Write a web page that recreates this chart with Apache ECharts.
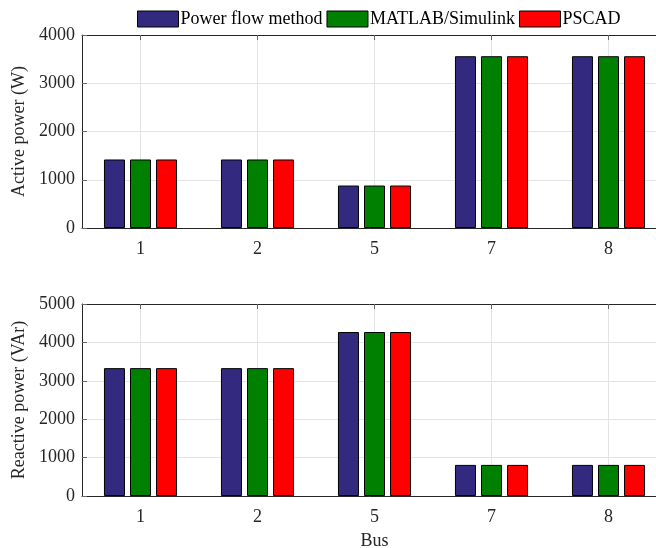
<!DOCTYPE html>
<html>
<head>
<meta charset="utf-8">
<script src="https://cdn.jsdelivr.net/npm/echarts@6/dist/echarts.min.js"></script>
<style>
  html, body { margin: 0; padding: 0; background: #fff; }
  #main { width: 656px; height: 548px; }
</style>
</head>
<body>
<div id="main"></div>
<script>
// 母线编号
var buses = ['1', '2', '5', '7', '8'];
var seriesNames = ['Power flow method', 'MATLAB/Simulink', 'PSCAD'];
var seriesColors = ['#332a80', '#008000', '#ff0000'];

// 有功功率 (W)
var activePowerflow = [1420, 1420, 880, 3560, 3560];
var activeMatlab = [1420, 1420, 880, 3560, 3560];
var activePscad = [1420, 1420, 880, 3560, 3560];

// 无功功率 (VAr)
var reactivePowerflow = [3330, 3330, 4270, 810, 810];
var reactiveMatlab = [3330, 3330, 4270, 810, 810];
var reactivePscad = [3330, 3330, 4270, 810, 810];

var activeTicks = [0, 1000, 2000, 3000, 4000];
var reactiveTicks = [0, 1000, 2000, 3000, 4000, 5000];

var font = 'Liberation Serif';
var axisColor = '#262626';
var gridColor = '#e3e3e3';

function catAxis(gridIndex, showLabel, name) {
    return {
        type: 'category',
        gridIndex: gridIndex,
        data: buses,
        name: name || '',
        nameLocation: 'middle',
        nameGap: 36,
        nameTextStyle: { fontFamily: font, fontSize: 18, color: axisColor },
        axisLine: { show: true, lineStyle: { color: axisColor, width: 1 } },
        axisTick: { show: true, inside: true, length: 5, alignWithLabel: true, lineStyle: { color: '#666' } },
        axisLabel: { show: showLabel, fontFamily: font, fontSize: 18, color: axisColor, margin: 12 },
        splitLine: { show: true, alignWithLabel: true, lineStyle: { color: gridColor, width: 1 } }
    };
}

function topAxis(gridIndex) {
    return {
        type: 'category',
        gridIndex: gridIndex,
        position: 'top',
        data: buses,
        axisLine: { show: true, lineStyle: { color: axisColor, width: 1 } },
        axisTick: { show: true, inside: true, length: 5, alignWithLabel: true, lineStyle: { color: '#666' } },
        axisLabel: { show: false },
        splitLine: { show: false }
    };
}

function valAxis(gridIndex, name, ticks) {
    return {
        type: 'value',
        gridIndex: gridIndex,
        min: ticks[0],
        max: ticks[ticks.length - 1],
        interval: 1000,
        name: name,
        nameLocation: 'middle',
        nameGap: 41,
        nameTextStyle: { fontFamily: font, fontSize: 18, color: axisColor },
        axisLine: { show: true, lineStyle: { color: axisColor, width: 1 } },
        axisTick: { show: true, inside: true, length: 5, lineStyle: { color: '#666' } },
        axisLabel: {
            fontFamily: font, fontSize: 18, color: axisColor, margin: 7,
            formatter: function (v) { return String(v); }
        },
        splitLine: { show: true, lineStyle: { color: gridColor, width: 1 } }
    };
}

function barSeries(name, color, data, xIdx, yIdx) {
    return {
        name: name,
        type: 'bar',
        xAxisIndex: xIdx,
        yAxisIndex: yIdx,
        barWidth: 21,
        barGap: '24%',
        itemStyle: { color: color, borderColor: '#000', borderWidth: 1 },
        data: data
    };
}

var myChart = echarts.init(document.getElementById('main'));
var option = {
    backgroundColor: '#fff',
    animation: false,
    legend: {
        data: seriesNames,
        icon: 'rect',
        left: 132,
        top: 5,
        itemWidth: 41,
        itemHeight: 16,
        itemGap: 4,
        itemStyle: { borderColor: '#000', borderWidth: 1 },
        textStyle: { fontFamily: font, fontSize: 18, color: '#000', padding: [0, 0, 0, -3] }
    },
    grid: [
        { left: 82, width: 585, top: 35, height: 193, outerBoundsMode: 'none' },
        { left: 82, width: 585, top: 304, height: 192, outerBoundsMode: 'none' }
    ],
    xAxis: [
        catAxis(0, true),
        catAxis(1, true, 'Bus'),
        topAxis(0),
        topAxis(1)
    ],
    yAxis: [
        valAxis(0, 'Active power (W)', activeTicks),
        valAxis(1, 'Reactive power (VAr)', reactiveTicks)
    ],
    series: [
        barSeries(seriesNames[0], seriesColors[0], activePowerflow, 0, 0),
        barSeries(seriesNames[1], seriesColors[1], activeMatlab, 0, 0),
        barSeries(seriesNames[2], seriesColors[2], activePscad, 0, 0),
        barSeries(seriesNames[0], seriesColors[0], reactivePowerflow, 1, 1),
        barSeries(seriesNames[1], seriesColors[1], reactiveMatlab, 1, 1),
        barSeries(seriesNames[2], seriesColors[2], reactivePscad, 1, 1)
    ]
};
option && myChart.setOption(option);
</script>
</body>
</html>
